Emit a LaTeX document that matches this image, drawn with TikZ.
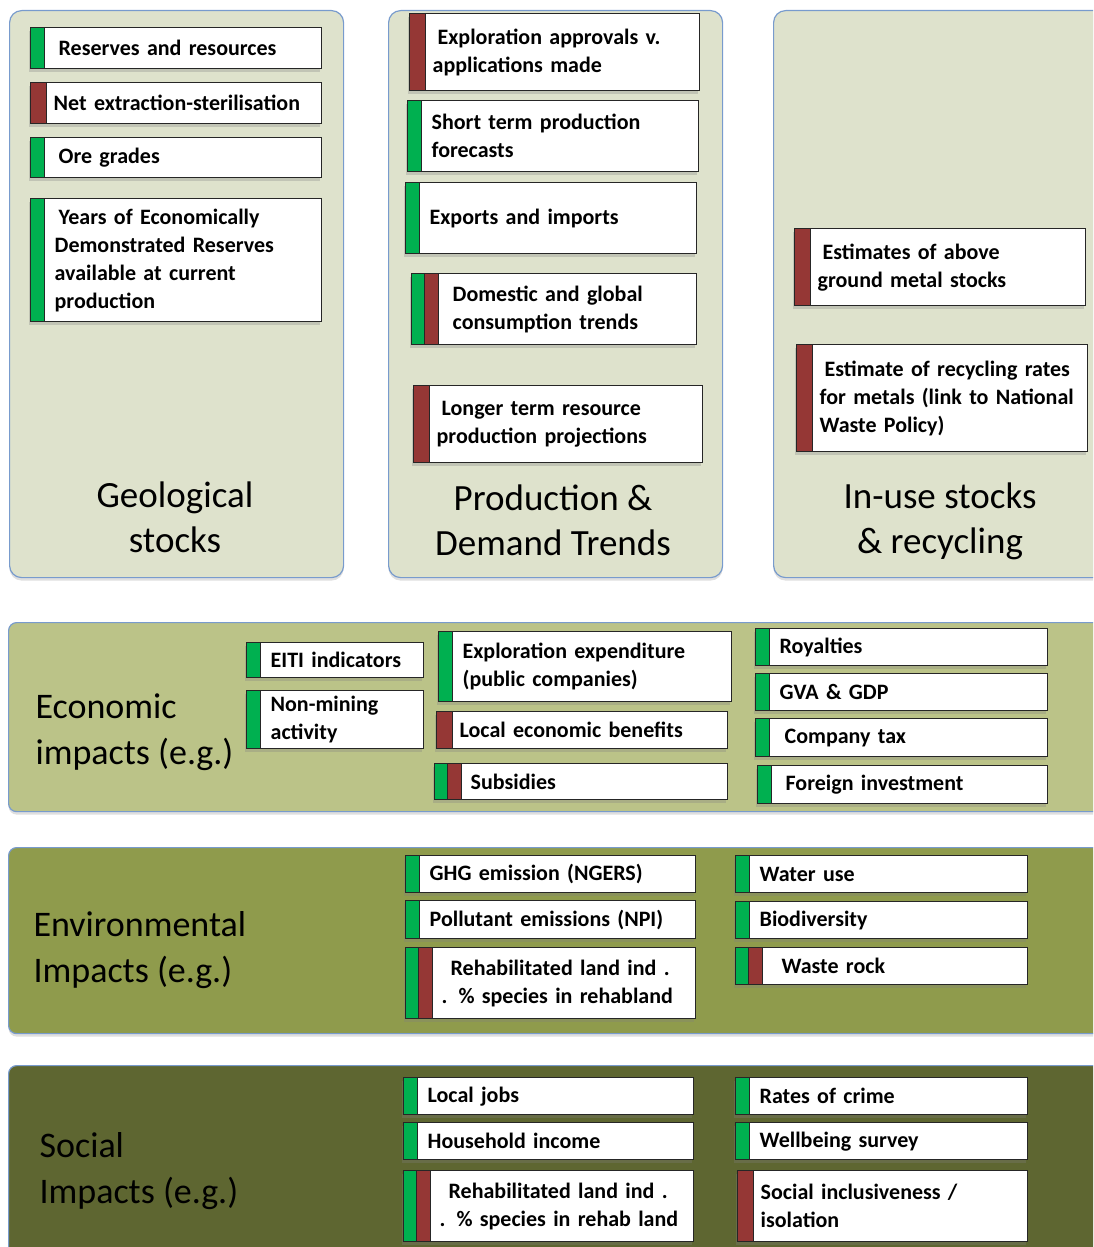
\documentclass[tikz,border=0pt]{standalone}
\usepackage{fontspec}
\setmainfont{Carlito}
\usetikzlibrary{shadows}
\definecolor{panelfill}{RGB}{222,226,204}
\definecolor{panelline}{RGB}{120,155,205}
\definecolor{econfill}{RGB}{187,195,136}
\definecolor{envfill}{RGB}{143,155,76}
\definecolor{socfill}{RGB}{94,102,49}
\definecolor{taggreen}{RGB}{0,176,80}
\definecolor{tagred}{RGB}{149,55,53}

\begin{document}
\begin{tikzpicture}[x=1pt, y=-1pt,
    panel/.style={rectangle, draw=panelline, fill=panelfill, rounded corners=12pt, line width=1.2pt, anchor=north west, inner sep=0pt, drop shadow={shadow xshift=0pt, shadow yshift=-3pt, opacity=0.25}},
    band/.style={rectangle, draw=panelline, rounded corners=8pt, line width=1.2pt, anchor=north west, inner sep=0pt, drop shadow={shadow xshift=0pt, shadow yshift=-3pt, opacity=0.25}},
    ibox/.style={rectangle, draw=black!85, fill=white, line width=1.3pt, anchor=north west, align=left, inner xsep=4pt, inner ysep=0pt, font=\fontsize{22}{28}\selectfont\bfseries, drop shadow={shadow xshift=-2pt, shadow yshift=-3pt, opacity=0.3}},
    gtag/.style={path picture={
        \fill[taggreen] (path picture bounding box.north west) rectangle ([xshift=14pt]path picture bounding box.south west);
        \draw[line width=1pt] ([xshift=14pt]path picture bounding box.north west) -- ([xshift=14pt]path picture bounding box.south west);},
        execute at begin node={\leftskip=20pt}},
    rtag/.style={path picture={
        \fill[tagred] (path picture bounding box.north west) rectangle ([xshift=16pt]path picture bounding box.south west);
        \draw[line width=1pt] ([xshift=16pt]path picture bounding box.north west) -- ([xshift=16pt]path picture bounding box.south west);},
        execute at begin node={\leftskip=19pt}},
    grtag/.style={path picture={
        \fill[taggreen] (path picture bounding box.north west) rectangle ([xshift=13pt]path picture bounding box.south west);
        \fill[tagred] ([xshift=13pt]path picture bounding box.north west) rectangle ([xshift=27pt]path picture bounding box.south west);
        \draw[line width=1pt] ([xshift=13pt]path picture bounding box.north west) -- ([xshift=13pt]path picture bounding box.south west);
        \draw[line width=1pt] ([xshift=27pt]path picture bounding box.north west) -- ([xshift=27pt]path picture bounding box.south west);},
        execute at begin node={\leftskip=32pt}},
    title/.style={font=\fontsize{37}{45}\selectfont, align=center},
    blbl/.style={font=\fontsize{36}{46}\selectfont, align=left, anchor=west},
]
    \useasboundingbox (0,0) rectangle (1093,1247);
    \clip (0,0) rectangle (1093,1247);

    % Top panels
    \node[panel, minimum width=334pt, minimum height=567pt] (geo) at (9,10) {};
    \node[panel, minimum width=334pt, minimum height=567pt] (prod) at (388,10) {};
    \node[panel, minimum width=334pt, minimum height=567pt] (inuse) at (773,10) {};

    % Geological stocks
    \node[ibox, gtag, text width=283pt, minimum height=41pt] (reserves) at (30,27) {\hspace*{4pt}Reserves and resources};
    \node[ibox, rtag, text width=283pt, minimum height=41pt] (netext) at (30,82) {Net extraction-sterilisation};
    \node[ibox, gtag, text width=283pt, minimum height=40pt] (oregrade) at (30,137) {\hspace*{4pt}Ore grades};
    \node[ibox, gtag, text width=283pt, minimum height=123pt] (edr) at (30,198) {\hspace*{4pt}Years of Economically\\Demonstrated Reserves\\available at current\\production};
    \node[title] (geotitle) at (175,517) {Geological\\stocks};

    % Production & demand trends
    \node[ibox, rtag, text width=282pt, minimum height=77pt] (explappr) at (409,13) {\hspace*{5pt}Exploration approvals v.\\applications made};
    \node[ibox, gtag, text width=283pt, minimum height=71pt] (shortterm) at (407,100) {Short term production\\forecasts};
    \node[ibox, gtag, text width=283pt, minimum height=71pt] (trade) at (405,182) {Exports and imports};
    \node[ibox, grtag, text width=277pt, minimum height=71pt] (consump) at (411,273) {\hspace*{5pt}Domestic and global\\\hspace*{5pt}consumption trends};
    \node[ibox, rtag, text width=281pt, minimum height=77pt] (longterm) at (413,385) {\hspace*{5pt}Longer term resource\\production projections};
    \node[title] (prodtitle) at (553,520) {Production \&\\Demand Trends};

    % In-use stocks & recycling
    \node[ibox, rtag, text width=283pt, minimum height=77pt] (aboveground) at (794,228) {\hspace*{5pt}Estimates of above\\ground metal stocks};
    \node[ibox, rtag, text width=283pt, minimum height=107pt] (recycling) at (796,344) {\hspace*{5pt}Estimate of recycling rates\\for metals (link to National\\Waste Policy)};
    \node[title] (inusetitle) at (940,521) {In-use stocks\\\& recycling};

    % Economic impacts
    \node[band, fill=econfill, minimum width=1110pt, minimum height=189pt] (econ) at (8,622) {};
    \node[blbl] (econlbl) at (32,732) {Economic\\impacts (e.g.)};
    \node[ibox, gtag, text width=169pt, minimum height=35pt] (eiti) at (246,642) {EITI indicators};
    \node[ibox, gtag, text width=169pt, minimum height=58pt] (nonmining) at (246,690) {Non-mining\\activity};
    \node[ibox, gtag, text width=285pt, minimum height=70pt] (explexp) at (438,631) {Exploration expenditure\\(public companies)};
    \node[ibox, rtag, text width=283pt, minimum height=37pt] (localben) at (436,711) {Local economic benefits};
    \node[ibox, grtag, text width=285pt, minimum height=36pt] (subsidies) at (434,763) {Subsidies};
    \node[ibox, gtag, text width=284pt, minimum height=37pt] (royalties) at (755,628) {Royalties};
    \node[ibox, gtag, text width=284pt, minimum height=37pt] (gva) at (755,673) {GVA \& GDP};
    \node[ibox, gtag, text width=284pt, minimum height=38pt] (comptax) at (755,718) {\hspace*{5pt}Company tax};
    \node[ibox, gtag, text width=282pt, minimum height=38pt] (foreign) at (757,765) {\hspace*{4pt}Foreign investment};

    % Environmental impacts
    \node[band, fill=envfill, minimum width=1110pt, minimum height=186pt] (env) at (8,847) {};
    \node[blbl] (envlbl) at (30,950) {Environmental\\Impacts (e.g.)};
    \node[ibox, gtag, text width=282pt, minimum height=37pt] (ghg) at (405,855) {GHG emission (NGERS)};
    \node[ibox, gtag, text width=282pt, minimum height=38pt] (npi) at (405,900) {Pollutant emissions (NPI)};
    \node[ibox, grtag, text width=282pt, minimum height=71pt] (rehabenv) at (405,947) {\hspace*{9pt}Rehabilitated land ind .\\. \% species in rehabland};
    \node[ibox, gtag, text width=284pt, minimum height=37pt] (water) at (735,855) {Water use};
    \node[ibox, gtag, text width=284pt, minimum height=37pt] (biodiv) at (735,901) {Biodiversity};
    \node[ibox, grtag, text width=284pt, minimum height=37pt] (wasterock) at (735,947) {\hspace*{10pt}Waste rock};

    % Social impacts
    \node[band, fill=socfill, minimum width=1110pt, minimum height=200pt] (soc) at (8,1065) {};
    \node[blbl] (soclbl) at (36,1171) {Social\\Impacts (e.g.)};
    \node[ibox, gtag, text width=282pt, minimum height=37pt] (jobs) at (403,1077) {Local jobs};
    \node[ibox, gtag, text width=282pt, minimum height=37pt] (income) at (403,1122) {Household income};
    \node[ibox, grtag, text width=282pt, minimum height=71pt] (rehabsoc) at (403,1170) {\hspace*{9pt}Rehabilitated land ind .\\. \% species in rehab land};
    \node[ibox, gtag, text width=284pt, minimum height=37pt] (crime) at (735,1077) {Rates of crime};
    \node[ibox, gtag, text width=284pt, minimum height=37pt] (wellbeing) at (735,1122) {Wellbeing survey};
    \node[ibox, rtag, text width=282pt, minimum height=71pt] (inclusion) at (737,1170) {Social inclusiveness /\\isolation};
\end{tikzpicture}
\end{document}
